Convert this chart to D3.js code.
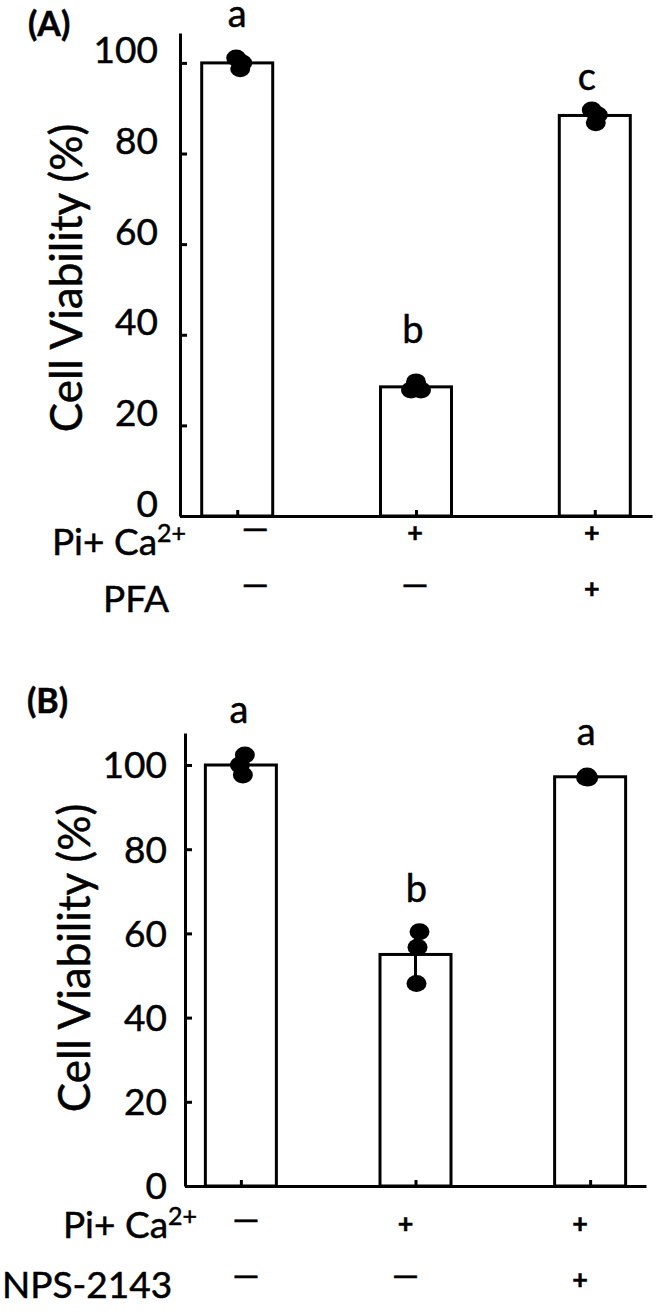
<!DOCTYPE html>
<html>
<head>
<meta charset="utf-8">
<script src="https://cdn.jsdelivr.net/npm/d3@7"></script>
<style>
  body { margin: 0; background: #fff; }
  text { font-family: Lato, "Open Sans", sans-serif; fill: #000; stroke: #000; stroke-width: 0.5px; }
</style>
</head>
<body>
<div id="chart"></div>
<script>
// groups and y ticks shared by both panels
var groups = ["control", "calcifying", "treated"];
var yTicks = [0, 20, 40, 60, 80, 100];

// panel A: Pi + Ca2+ with/without PFA
var meansA = [100, 28.5, 88.4];
var pointsA = [[101.1, 100.0, 98.7], [29.6, 27.8, 27.8], [89.6, 88.5, 86.8]];
var lettersA = ["a", "b", "c"];
var rowNamesA = [{main: "Pi+ Ca", sup: "2+"}, {main: "PFA", sup: ""}];
var signsA = [["—", "+", "+"], ["—", "—", "+"]];

// panel B: Pi + Ca2+ with/without NPS-2143
var meansB = [100, 55, 97.2];
var pointsB = [[102.4, 100.0, 97.6], [60.4, 56.7, 48.1], [97.4, 97.0, 96.9]];
var lettersB = ["a", "b", "a"];
var rowNamesB = [{main: "Pi+ Ca", sup: "2+"}, {main: "NPS-2143", sup: ""}];
var signsB = [["—", "+", "+"], ["—", "—", "+"]];

var svg = d3.select("#chart")
    .append("svg")
    .attr("width", 660)
    .attr("height", 1311);

// layout of each panel (pixels)
var panels = [
  {tag: "(A)", tagX: 28, tagY: 36, means: meansA, points: pointsA, letters: lettersA,
   rowNames: rowNamesA, signs: signsA,
   x0: 180, x1: 652, yBase: 516, yTop: 33, yMax: 106.6, tickDy: "0em", tickPad: 22,
   labelX: 82, labelY: 278,
   jitter: [[-1, 5, 3], [0, -5, 5], [-3, 3, 1]],
   letterLift: [31, 39, 20], letterNudge: [0, -3, -8],
   rowX: [52, 103], rowY: [555, 612], signY: [555, 611], signNudge: [18, -1, -3]},
  {tag: "(B)", tagX: 27, tagY: 713, means: meansB, points: pointsB, letters: lettersB,
   rowNames: rowNamesB, signs: signsB,
   x0: 185, x1: 646, yBase: 1186, yTop: 733, yMax: 107.6, tickDy: "0.35em", tickPad: 18,
   labelX: 90, labelY: 958,
   jitter: [[4, -1, 2], [4, 2, 1], [-3, -4, -2]],
   letterLift: [32, 30, 31], letterNudge: [-2, 1, -4],
   rowX: [63, 2], rowY: [1238, 1298], signY: [1246, 1302], signNudge: [5, -10, -10]}
];

panels.forEach(function (p) {
  var g = svg.append("g");

  var x = d3.scalePoint()
      .domain(groups)
      .range([p.x0, p.x1])
      .padding(0.32);

  var y = d3.scaleLinear()
      .domain([0, p.yMax])
      .range([p.yBase, p.yTop]);

  // bars
  g.selectAll("rect.bar")
    .data(p.means)
    .enter()
    .append("rect")
    .attr("x", function (d, i) { return x(groups[i]) - 35.5; })
    .attr("y", function (d) { return y(d); })
    .attr("width", 71)
    .attr("height", function (d) { return y(0) - y(d); })
    .attr("fill", "#fff")
    .attr("stroke", "#000")
    .attr("stroke-width", 3);

  // error bars (mean +/- sd of the points)
  p.points.forEach(function (pts, i) {
    var m = d3.mean(pts), sd = d3.deviation(pts);
    var cx = x(groups[i]);
    g.append("line")
      .attr("x1", cx).attr("x2", cx)
      .attr("y1", y(m - sd)).attr("y2", y(m + sd))
      .attr("stroke", "#000").attr("stroke-width", 3);
  });

  // individual points
  p.points.forEach(function (pts, i) {
    g.selectAll(null)
      .data(pts)
      .enter()
      .append("ellipse")
      .attr("cx", function (d, j) { return x(groups[i]) + p.jitter[i][j]; })
      .attr("cy", function (d) { return y(d); })
      .attr("rx", 10)
      .attr("ry", 8.5)
      .attr("fill", "#000");
  });

  // significance letters
  g.selectAll("text.letter")
    .data(p.letters)
    .enter()
    .append("text")
    .attr("x", function (d, i) { return x(groups[i]) + p.letterNudge[i]; })
    .attr("y", function (d, i) { return y(d3.max(p.points[i])) - p.letterLift[i]; })
    .attr("text-anchor", "middle")
    .attr("font-size", 38)
    .text(function (d) { return d; });

  // y axis, ticks pointing inward
  var yAxis = g.append("g")
      .attr("transform", "translate(" + p.x0 + ",0)")
      .call(d3.axisLeft(y).tickValues(yTicks).tickSizeInner(-7).tickSizeOuter(0).tickPadding(p.tickPad));
  yAxis.selectAll("path, line").attr("stroke", "#000").attr("stroke-width", 3);
  yAxis.selectAll("text")
      .attr("font-family", "Lato, sans-serif")
      .attr("font-size", 37)
      .attr("fill", "#000")
      .attr("dy", p.tickDy);

  // x axis with small upward ticks
  var xAxis = g.append("g")
      .attr("transform", "translate(0," + p.yBase + ")")
      .call(d3.axisBottom(x).tickSizeInner(-6).tickSizeOuter(0).tickFormat(""));
  xAxis.selectAll("path, line").attr("stroke", "#000").attr("stroke-width", 3);

  // y axis title
  g.append("text")
    .attr("transform", "translate(" + p.labelX + "," + p.labelY + ") rotate(-90)")
    .attr("text-anchor", "middle")
    .attr("font-size", 44)
    .text("Cell Viability (%)");

  // panel tag
  g.append("text")
    .attr("x", p.tagX)
    .attr("y", p.tagY)
    .attr("font-size", 34)
    .attr("font-weight", "bold")
    .text(p.tag);

  // treatment rows
  p.rowNames.forEach(function (r, k) {
    var t = g.append("text")
      .attr("x", p.rowX[k])
      .attr("y", p.rowY[k])
      .attr("font-size", 37)
      .text(r.main);
    if (r.sup) {
      t.append("tspan")
        .attr("font-size", 25)
        .attr("dy", -13)
        .text(r.sup);
    }
    g.selectAll(null)
      .data(p.signs[k])
      .enter()
      .append("text")
      .attr("x", function (d, i) { return x(groups[i]) + p.signNudge[i]; })
      .attr("y", p.signY[k])
      .attr("text-anchor", "middle")
      .attr("font-family", function (d) { return d === "+" ? "Liberation Sans, Arial, sans-serif" : "Lato, sans-serif"; })
      .attr("font-weight", function (d) { return d === "+" ? "bold" : "normal"; })
      .attr("font-size", function (d) { return d === "+" ? 27 : 34; })
      .attr("dy", function (d) { return d === "+" ? "-0.5em" : "-0.45em"; })
      .text(function (d) { return d; });
  });
});
</script>
</body>
</html>
